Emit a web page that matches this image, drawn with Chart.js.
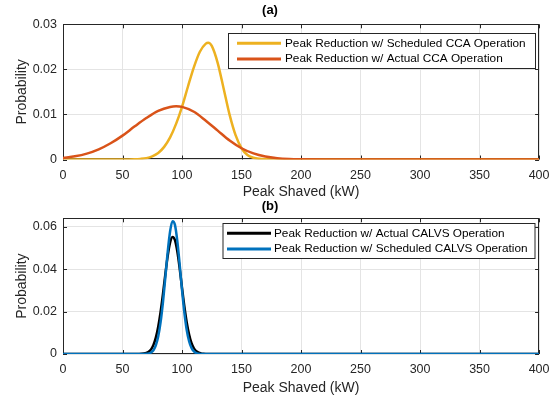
<!DOCTYPE html>
<html>
<head>
<meta charset="utf-8">
<script src="https://cdn.jsdelivr.net/npm/chart.js@4.4.0/dist/chart.umd.min.js"></script>
<style>
  html, body { margin: 0; padding: 0; background: #fff; overflow: hidden; width: 558px; height: 396px; }
  .panel { position: absolute; left: 0; width: 558px; }
  #panelA { top: 0; height: 200px; }
  #panelB { top: 196px; height: 204px; }
</style>
</head>
<body>
<div class="panel" id="panelA"><canvas id="chartA" width="558" height="200"></canvas></div>
<div class="panel" id="panelB"><canvas id="chartB" width="558" height="204"></canvas></div>
<script>
'use strict';

// (a) CCA peak reduction densities
const kwSchedCCA = [0, 50, 60, 65, 70, 75, 80, 85, 90, 95, 100, 105, 110, 115, 120, 122, 125, 130, 135, 140, 145, 150, 155, 160, 165, 170, 180, 200, 400];
const probSchedCCA = [0, 0, 0.00005, 0.00013, 0.0003, 0.0007, 0.00145, 0.0028, 0.0049, 0.0079, 0.0117, 0.0162, 0.0205, 0.0239, 0.0257, 0.0259, 0.0252, 0.0214, 0.0157, 0.0099, 0.0054, 0.0025, 0.0010, 0.0004, 0.00015, 0.00005, 0.00001, 0, 0];
const kwActualCCA = [0, 10, 20, 30, 40, 50, 60, 70, 80, 90, 95, 100, 110, 120, 130, 140, 150, 160, 170, 180, 190, 200, 220, 400];
const probActualCCA = [0.00035, 0.0007, 0.0013, 0.00225, 0.0036, 0.0053, 0.0073, 0.0092, 0.0108, 0.01166, 0.0118, 0.01168, 0.0106, 0.0086, 0.0064, 0.0042, 0.0025, 0.00135, 0.00066, 0.00029, 0.00011, 0.00004, 0, 0];

// (b) CALVS peak reduction densities
const kwActualCALVS = [0, 60, 64, 66, 68, 70, 72, 74, 76, 78, 80, 82, 84, 86, 88, 90, 92, 94, 96, 98, 100, 102, 104, 106, 108, 110, 112, 114, 116, 118, 120, 124, 400];
const probActualCALVS = [0, 0, 0.00002, 0.00007, 0.00019, 0.00046, 0.00104, 0.0022, 0.0043, 0.0077, 0.0129, 0.0199, 0.0284, 0.0377, 0.0463, 0.0526, 0.0552, 0.0538, 0.0485, 0.0405, 0.0312, 0.0223, 0.0148, 0.0091, 0.0051, 0.0027, 0.0013, 0.0006, 0.00025, 0.0001, 0.00003, 0, 0];
const kwSchedCALVS = [0, 66, 68, 70, 72, 74, 76, 78, 80, 82, 84, 86, 88, 90, 92, 94, 96, 98, 100, 102, 104, 106, 108, 110, 112, 114, 116, 120, 400];
const probSchedCALVS = [0, 0, 0.00002, 0.00009, 0.00026, 0.00073, 0.0018, 0.0041, 0.0082, 0.0150, 0.0245, 0.0362, 0.0483, 0.0579, 0.0626, 0.0610, 0.0535, 0.0424, 0.0302, 0.0194, 0.0112, 0.0059, 0.0028, 0.0012, 0.00045, 0.00015, 0.00005, 0, 0];

const FONT = '"Liberation Sans", Arial, Helvetica, sans-serif';
const AXIS_CLR = '#262626';
const pts = (xs, ys) => xs.map((x, i) => ({ x, y: ys[i] }));

// box around the plot area plus inward tick marks on all four sides
const axesBox = {
  id: 'axesBox',
  beforeDatasetsDraw(chart) {
    const { ctx, chartArea: a, scales: { x, y } } = chart;
    ctx.save();
    ctx.strokeStyle = AXIS_CLR;
    ctx.lineWidth = 1;
    ctx.beginPath();
    x.ticks.forEach(t => {
      const px = Math.round(x.getPixelForValue(t.value)) + 0.5;
      ctx.moveTo(px, a.bottom); ctx.lineTo(px, a.bottom - 4);
      ctx.moveTo(px, a.top); ctx.lineTo(px, a.top + 4);
    });
    y.ticks.forEach(t => {
      const py = Math.round(y.getPixelForValue(t.value)) + 0.5;
      ctx.moveTo(a.left, py); ctx.lineTo(a.left + 4, py);
      ctx.moveTo(a.right, py); ctx.lineTo(a.right - 4, py);
    });
    ctx.stroke();
    ctx.strokeRect(Math.round(a.left) + 0.5, Math.round(a.top) + 0.5, Math.round(a.width) - 1, Math.round(a.height) - 1);
    ctx.restore();
  }
};

// framed legend inside the axes
const boxLegend = {
  id: 'boxLegend',
  afterDraw(chart, args, o) {
    const { ctx } = chart;
    ctx.save();
    ctx.fillStyle = '#fff';
    ctx.fillRect(o.x, o.y, o.w, o.h);
    ctx.strokeStyle = AXIS_CLR;
    ctx.lineWidth = 1;
    ctx.strokeRect(o.x + 0.5, o.y + 0.5, o.w, o.h);
    ctx.font = `11.8px ${FONT}`;
    ctx.textBaseline = 'middle';
    chart.data.datasets.forEach((ds, i) => {
      const ly = o.rows[i];
      ctx.strokeStyle = ds.borderColor;
      ctx.lineWidth = 3;
      ctx.beginPath();
      ctx.moveTo(o.lineX, ly); ctx.lineTo(o.lineX + 44, ly);
      ctx.stroke();
      ctx.fillStyle = '#000';
      ctx.fillText(ds.label, o.textX, ly);
    });
    ctx.restore();
  }
};

function makeChart(id, cfg) {
  const n = cfg.series.length;
  return new Chart(document.getElementById(id), {
    type: 'line',
    data: {
      // later series are painted over earlier ones
      datasets: cfg.series.map((s, i) => ({
        label: s.label,
        data: pts(s.x, s.y),
        order: n - i,
        borderColor: s.color,
        backgroundColor: s.color,
        borderWidth: 2.5,
        pointRadius: 0,
        cubicInterpolationMode: 'monotone',
        fill: false
      }))
    },
    options: {
      responsive: false,
      animation: false,
      layout: { padding: { left: 0, right: 18, top: 0, bottom: 0 } },
      plugins: {
        legend: { display: false },
        tooltip: { enabled: false },
        title: {
          display: true, text: cfg.title, color: '#000',
          font: { family: FONT, size: 13, weight: 'bold' },
          padding: { top: 2.2, bottom: cfg.titleGap }
        },
        boxLegend: cfg.legend
      },
      scales: {
        x: {
          type: 'linear', min: 0, max: 400,
          ticks: { stepSize: 50, color: AXIS_CLR, padding: 8.5, font: { family: FONT, size: 12.5 } },
          grid: { color: '#e4e4e4', drawTicks: false },
          border: { display: false },
          title: { display: true, text: 'Peak Shaved (kW)', color: AXIS_CLR, font: { family: FONT, size: 14, lineHeight: 1.15 }, padding: { top: 0, bottom: cfg.xTitlePad } },
          afterFit: s => { s.height = cfg.xAxisHeight; }
        },
        y: {
          min: 0, max: cfg.yMax,
          ticks: {
            stepSize: cfg.yStep, includeBounds: false, color: AXIS_CLR, padding: 6,
            font: { family: FONT, size: 12.5 },
            callback: v => v === 0 ? '0' : v.toFixed(2)
          },
          grid: { color: '#e4e4e4', drawTicks: false },
          border: { display: false },
          title: { display: true, text: 'Probability', color: AXIS_CLR, font: { family: FONT, size: 14, lineHeight: 1.15 }, padding: { top: 14, bottom: 0 } },
          afterFit: s => { s.width = 63; }
        }
      }
    },
    plugins: [axesBox, boxLegend]
  });
}

makeChart('chartA', {
  title: '(a)', titleGap: 6.5, yMax: 0.03, yStep: 0.01, xAxisHeight: 40.5, xTitlePad: 0,
  series: [
    { label: 'Peak Reduction w/ Scheduled CCA Operation', x: kwSchedCCA, y: probSchedCCA, color: '#EDB120' },
    { label: 'Peak Reduction w/ Actual CCA Operation', x: kwActualCCA, y: probActualCCA, color: '#D95319' }
  ],
  legend: { x: 228, y: 33, w: 307, h: 35, lineX: 237, textX: 285, rows: [43.3, 59] }
});

makeChart('chartB', {
  title: '(b)', titleGap: 4.5, yMax: 0.064, yStep: 0.02, xAxisHeight: 46, xTitlePad: 3.5,
  series: [
    { label: 'Peak Reduction w/ Actual CALVS Operation', x: kwActualCALVS, y: probActualCALVS, color: '#000000' },
    { label: 'Peak Reduction w/ Scheduled CALVS Operation', x: kwSchedCALVS, y: probSchedCALVS, color: '#0072BD' }
  ],
  legend: { x: 222.5, y: 27, w: 312, h: 35, lineX: 227, textX: 274, rows: [37.3, 53] }
});
</script>
</body>
</html>
